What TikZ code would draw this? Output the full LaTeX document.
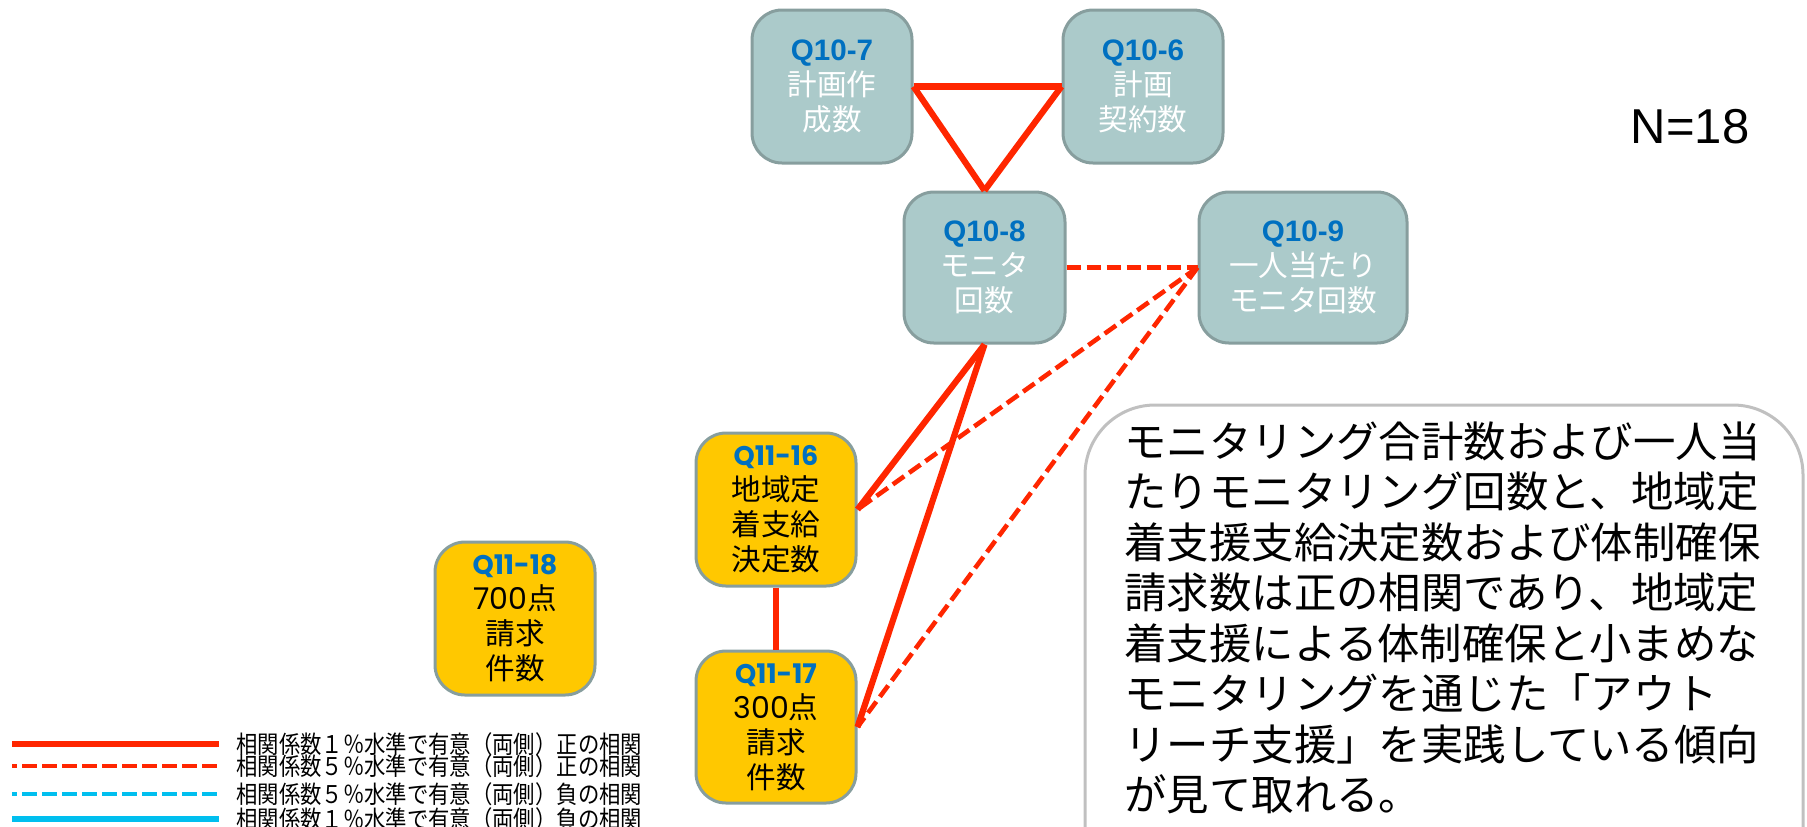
\documentclass[tikz,border=0pt]{standalone}
\usepackage{fontspec}
\setmainfont{Liberation Sans}
\newfontfamily\jp{Noto Sans CJK JP}
\newfontfamily\popp{Poppins}
\definecolor{greyc}{HTML}{ABCACA}
\definecolor{bordc}{HTML}{879E9E}
\definecolor{yellowc}{HTML}{FFC800}
\definecolor{qblue}{HTML}{0070C0}
\definecolor{redc}{HTML}{FF2600}
\definecolor{cyanc}{HTML}{00BFEF}
\definecolor{tboxc}{HTML}{C0C0C0}
\tikzset{
  gbox/.style={draw=bordc, fill=greyc, line width=1.5pt, rounded corners=15pt,
    minimum width=80pt, minimum height=76.5pt, align=center, text=white, inner sep=0pt,
    font=\fontsize{14.8}{17.5}\selectfont},
  ybox/.style={gbox, fill=yellowc, text=black},
  sol/.style={draw=redc, line width=3.1pt},
  dsh/.style={draw=redc, line width=2.3pt, dash pattern=on 7pt off 3pt},
  legsol/.style={line width=3pt},
  legdsh/.style={line width=2pt, dash pattern=on 7.5pt off 2.5pt, dash phase=5pt},
  legtxt/.style={anchor=west, inner sep=0pt, font=\jp\fontsize{12.2}{13}\selectfont},
}
\newcommand{\qlab}[1]{{\bfseries\color{qblue}#1}}
\newcommand{\plab}[1]{{\popp\bfseries\fontsize{13.5}{17.5}\selectfont\color{qblue}#1}}
\newcommand{\legt}[1]{\scalebox{0.875}[1]{#1}}
\begin{document}
\begin{tikzpicture}[x=0.5pt,y=-0.5pt]
\useasboundingbox (0,0) rectangle (1807,826);

% nodes
\node[gbox] (q7) at (832,86.5) {\qlab{Q10-7}\\{\jp 計画作}\\{\jp 成数}};
\node[gbox] (q6) at (1143,86.5) {\qlab{Q10-6}\\{\jp 計画}\\{\jp 契約数}};
\node[gbox, minimum width=80.5pt, minimum height=75.5pt] (q8) at (984.5,267.5) {\qlab{Q10-8}\\{\jp モニタ}\\{\jp 回数}};
\node[gbox, minimum width=104pt, minimum height=75.5pt] (q9) at (1303,267.5) {\qlab{Q10-9}\\{\jp 一人当たり}\\{\jp モニタ回数}};
\node[ybox] (q16) at (776,509.5) {\plab{Q11-16}\\{\jp 地域定}\\{\jp 着支給}\\{\jp 決定数}};
\node[ybox, minimum height=76pt] (q17) at (776,727) {\plab{Q11-17}\\{\popp\fontsize{15}{17.5}\selectfont 300}{\jp 点}\\{\jp 請求}\\{\jp 件数}};
\node[ybox] (q18) at (515,618.5) {\plab{Q11-18}\\{\popp\fontsize{15}{17.5}\selectfont 700}{\jp 点}\\{\jp 請求}\\{\jp 件数}};

% connectors
\draw[sol] (q7.east) -- (q6.west);
\draw[sol] (q7.east) -- (q8.north);
\draw[sol] (q6.west) -- (q8.north);
\draw[dsh] (q8.east) -- (q9.west);
\draw[sol] (q8.south) -- (q16.east);
\draw[sol] (q8.south) -- (q17.east);
\draw[dsh] (q9.west) -- (q16.east);
\draw[dsh] (q9.west) -- (q17.east);
\draw[sol] (q16.south) -- (q17.north);

% N
\node[inner sep=0pt, font=\fontsize{24.5}{28}\selectfont] (n) at (1690,127) {N=18};

% text box
\draw[draw=tboxc, line width=1.5pt, rounded corners=35pt] (1085,405) rectangle (1803,900);
\node[anchor=west, align=left, inner sep=0pt, font=\jp\fontsize{21.2}{25.25}\selectfont] (note) at (1124,618)
{モニタリング合計数および一人当\\たりモニタリング回数と、地域定\\着支援支給決定数および体制確保\\請求数は正の相関であり、地域定\\着支援による体制確保と小まめな\\モニタリングを通じた「アウト\\リーチ支援」を実践している傾向\\が見て取れる。};

% legend
\coordinate (l1a) at (12,744); \coordinate (l1b) at (219,744);
\coordinate (l2a) at (12,766); \coordinate (l2b) at (219,766);
\coordinate (l3a) at (12,794); \coordinate (l3b) at (219,794);
\coordinate (l4a) at (12,819); \coordinate (l4b) at (219,819);
\draw[legsol, redc] (l1a) -- (l1b);
\draw[legdsh, redc] (l2a) -- (l2b);
\draw[legdsh, cyanc] (l3a) -- (l3b);
\draw[legsol, cyanc] (l4a) -- (l4b);
\node[legtxt] (t1) at (236,744) {\legt{相関係数１％水準で有意（両側）正の相関}};
\node[legtxt] (t2) at (236,766) {\legt{相関係数５％水準で有意（両側）正の相関}};
\node[legtxt] (t3) at (236,794) {\legt{相関係数５％水準で有意（両側）負の相関}};
\node[legtxt] (t4) at (236,819) {\legt{相関係数１％水準で有意（両側）負の相関}};
\end{tikzpicture}
\end{document}
